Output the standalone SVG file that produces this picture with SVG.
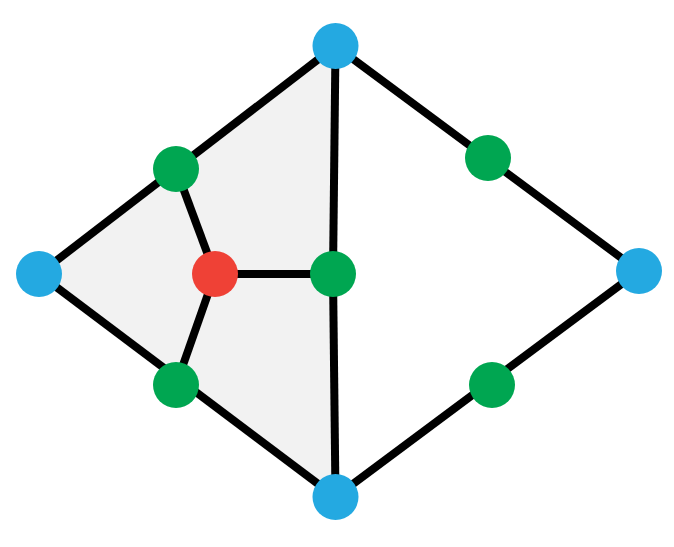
<svg xmlns="http://www.w3.org/2000/svg" width="674" height="547" viewBox="0 0 674 547">
<style>
.e{stroke:#000;stroke-width:8;fill:none;stroke-linecap:butt}
.b{fill:#24a9e1}.g{fill:#00a651}.r{fill:#ef4136}
</style>
<rect width="674" height="547" fill="#fff"/>
<polygon points="335.5,46 39,274 335.5,497" fill="#f2f2f2"/>
<g id="connectors">
<line class="e" x1="335.5" y1="46" x2="39" y2="274"/>
<line class="e" x1="39" y1="274" x2="335.5" y2="497"/>
<line class="e" x1="335.5" y1="46" x2="639" y2="271"/>
<line class="e" x1="639" y1="271" x2="335.5" y2="497"/>
<line class="e" x1="335.5" y1="46" x2="333" y2="274"/>
<line class="e" x1="333" y1="274" x2="335.5" y2="497"/>
<line class="e" x1="215" y1="274" x2="333" y2="274"/>
<line class="e" x1="215" y1="274" x2="176" y2="169"/>
<line class="e" x1="215" y1="274" x2="176" y2="385"/>
</g>
<g id="n_top"><circle class="b" cx="335.5" cy="46" r="23"/></g>
<g id="n_left"><circle class="b" cx="39" cy="274" r="23"/></g>
<g id="n_right"><circle class="b" cx="639" cy="271" r="23"/></g>
<g id="n_bottom"><circle class="b" cx="335.5" cy="497" r="23"/></g>
<g id="g_ul"><circle class="g" cx="176" cy="169" r="23"/></g>
<g id="g_ll"><circle class="g" cx="176" cy="385" r="23"/></g>
<g id="g_c"><circle class="g" cx="333" cy="274" r="23"/></g>
<g id="g_ur"><circle class="g" cx="488" cy="158" r="23"/></g>
<g id="g_lr"><circle class="g" cx="492" cy="385" r="23"/></g>
<g id="red"><circle class="r" cx="215" cy="274" r="23"/></g>
</svg>
